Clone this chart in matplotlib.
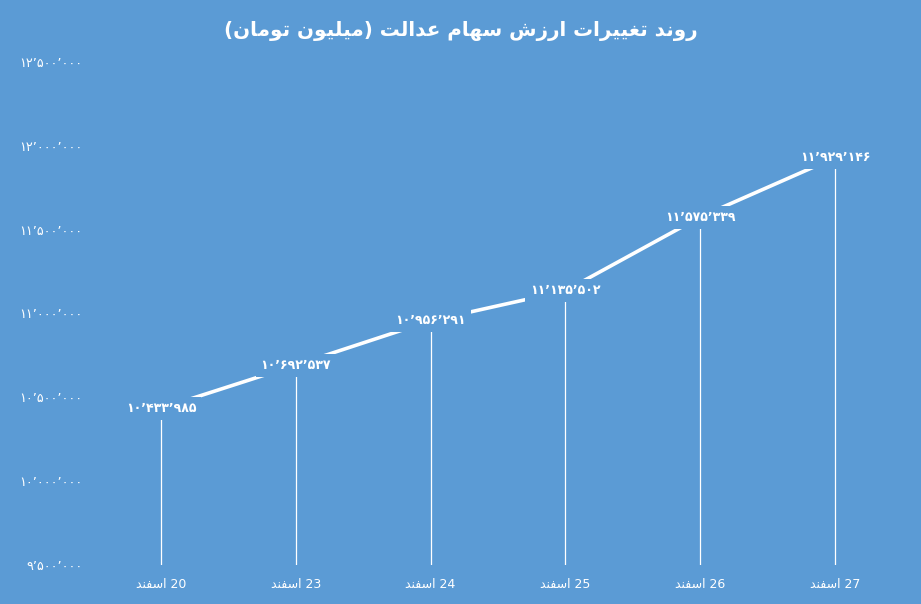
import matplotlib
matplotlib.use("Agg")
import matplotlib.pyplot as plt
from matplotlib.ticker import FixedLocator

# ---------------- data ----------------
title_text = "روند تغییرات ارزش سهام عدالت (میلیون تومان)"
day_numbers = ["20", "23", "24", "25", "26", "27"]
month_name = "اسفند"
values = [10433985, 10692537, 10956291, 11135502, 11575339, 11929146]
y_ticks = [9500000, 10000000, 10500000, 11000000, 11500000, 12000000, 12500000]

BG = "#5B9BD5"

# ---------------- minimal Arabic/Persian shaping ----------------
FORMS = {
    "ا": ("\uFE8D", "\uFE8E", None, None),
    "د": ("\uFEA9", "\uFEAA", None, None),
    "ر": ("\uFEAD", "\uFEAE", None, None),
    "ز": ("\uFEAF", "\uFEB0", None, None),
    "و": ("\uFEED", "\uFEEE", None, None),
    "ت": ("\uFE95", "\uFE96", "\uFE97", "\uFE98"),
    "غ": ("\uFECD", "\uFECE", "\uFECF", "\uFED0"),
    "ی": ("\uFBFC", "\uFBFD", "\uFEF3", "\uFEF4"),
    "ش": ("\uFEB5", "\uFEB6", "\uFEB7", "\uFEB8"),
    "س": ("\uFEB1", "\uFEB2", "\uFEB3", "\uFEB4"),
    "ه": ("\uFEE9", "\uFEEA", "\uFEEB", "\uFEEC"),
    "م": ("\uFEE1", "\uFEE2", "\uFEE3", "\uFEE4"),
    "ع": ("\uFEC9", "\uFECA", "\uFECB", "\uFECC"),
    "ل": ("\uFEDD", "\uFEDE", "\uFEDF", "\uFEE0"),
    "ن": ("\uFEE5", "\uFEE6", "\uFEE7", "\uFEE8"),
    "ف": ("\uFED1", "\uFED2", "\uFED3", "\uFED4"),
}


def shape_word(s):
    out = []
    for i, ch in enumerate(s):
        if ch not in FORMS:
            out.append(ch)
            continue
        f = FORMS[ch]
        prev = s[i - 1] if i > 0 else None
        nxt = s[i + 1] if i + 1 < len(s) else None
        pj = prev in FORMS and FORMS[prev][2] is not None
        nj = nxt in FORMS and f[2] is not None
        if pj and nj:
            out.append(f[3])
        elif pj:
            out.append(f[1])
        elif nj:
            out.append(f[2])
        else:
            out.append(f[0])
    return "".join(out)


def rtl(s):
    shaped = shape_word(s)
    rev = shaped[::-1]
    return rev.translate(str.maketrans("()", ")("))


PERSIAN_DIGITS = str.maketrans("0123456789", "۰۱۲۳۴۵۶۷۸۹")


def fa_num(v):
    return f"{v:,}".replace(",", "\u066C").translate(PERSIAN_DIGITS)


# ---------------- figure ----------------
fig = plt.figure(figsize=(9.21, 6.04), dpi=100, facecolor=BG)
ax = fig.add_axes([0.1016, 0.0646, 0.8782, 0.8328])
ax.set_facecolor(BG)

x = list(range(len(values)))
ax.plot(x, values, color="white", lw=2.6, zorder=2, solid_capstyle="butt")
ax.vlines(x, y_ticks[0], values, color="white", lw=0.9, zorder=1)

for xi, v in zip(x, values):
    ax.text(xi, v, fa_num(v), ha="center", va="center", color="white",
            fontsize=9, fontweight="bold", family="DejaVu Sans", zorder=3,
            bbox=dict(boxstyle="square,pad=0.4", fc=BG, ec="none"))

ax.set_xlim(-0.5, len(values) - 0.5)
ax.set_ylim(y_ticks[0], y_ticks[-1])
ax.yaxis.set_major_locator(FixedLocator(y_ticks))
ax.set_yticklabels([fa_num(t) for t in y_ticks], fontsize=9.2, color="white",
                   family="DejaVu Sans")
ax.set_xticks(x)
ax.set_xticklabels([rtl(month_name) + " " + d for d in day_numbers],
                   fontsize=9, color="white", family="DejaVu Sans")
ax.tick_params(axis="both", length=0)
ax.tick_params(axis="x", pad=9.5)
ax.tick_params(axis="y", pad=8)
for sp in ax.spines.values():
    sp.set_visible(False)

fig.text(0.5, 0.949, rtl(title_text), ha="center", va="center", color="white",
         fontsize=14.3, fontweight="bold", family="DejaVu Sans")

fig.savefig("out.png", dpi=100, facecolor=BG)
